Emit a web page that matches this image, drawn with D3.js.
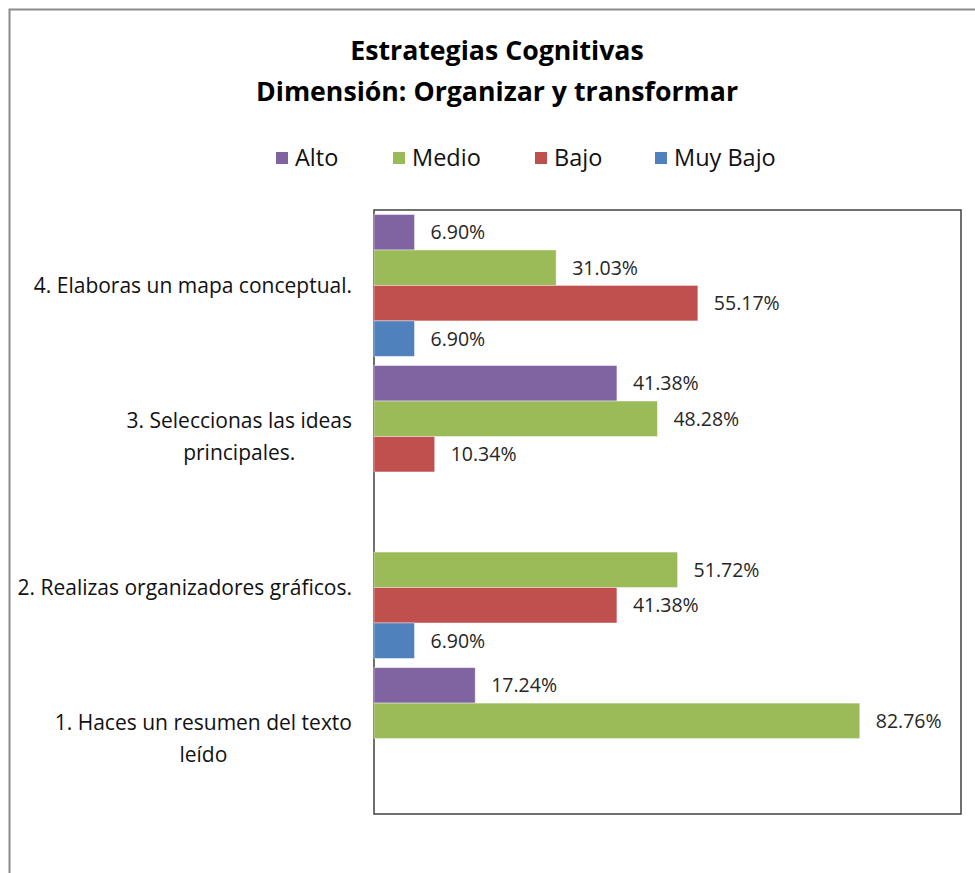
<!DOCTYPE html>
<html>
<head>
	<script src="https://cdn.jsdelivr.net/npm/d3@7/dist/d3.min.js"></script>
	<style>
		html, body {
			padding: 0;
			margin: 0;
			background: #fff;
		}
		text {
			font-family: "Open Sans", Lato, sans-serif;
		}
	</style>
</head>
<body>
	<div id="chart"></div>

	<script>
		// data
		var categories = [
			"4. Elaboras un mapa conceptual.",
			"3. Seleccionas las ideas|principales.",
			"2. Realizas organizadores gráficos.",
			"1. Haces un resumen del texto|leído"
		];
		var seriesNames = ["Alto", "Medio", "Bajo", "Muy Bajo"];
		var seriesColors = ["#8064A2", "#9BBB59", "#C0504D", "#4F81BD"];
		// one array per series, same order as categories (top to bottom)
		var alto    = [6.90, 41.38, 0, 17.24];
		var medio   = [31.03, 48.28, 51.72, 82.76];
		var bajo    = [55.17, 10.34, 41.38, 0];
		var muyBajo = [6.90, 0, 6.90, 0];
		var values = [alto, medio, bajo, muyBajo];

		var width = 975, height = 873;

		var svg = d3.select("#chart").append("svg")
			.attr("width", width)
			.attr("height", height);

		// outer chart frame (only top and left edges are in view)
		svg.append("rect")
			.attr("x", 9.5).attr("y", 9.5)
			.attr("width", 1000).attr("height", 1000)
			.attr("fill", "#fff")
			.attr("stroke", "#8c8c8c")
			.attr("stroke-width", 2);

		// title
		var title = svg.append("text")
			.attr("text-anchor", "middle")
			.attr("font-weight", "bold")
			.attr("font-size", 26.7)
			.attr("fill", "#000");
		title.append("tspan").attr("x", 497).attr("y", 60).text("Estrategias Cognitivas");
		title.append("tspan").attr("x", 497).attr("y", 101).text("Dimensión: Organizar y transformar");

		// legend
		var legendX = [276, 393, 535, 655];
		var legend = svg.append("g").selectAll("g")
			.data(seriesNames)
			.enter().append("g")
			.attr("transform", function(d, i) { return "translate(" + legendX[i] + ",152)"; });
		legend.append("rect")
			.attr("width", 12).attr("height", 12)
			.attr("fill", function(d, i) { return seriesColors[i]; });
		legend.append("text")
			.attr("x", 19).attr("y", 14)
			.attr("font-size", 23.5)
			.attr("fill", "#111")
			.text(function(d) { return d; });

		// plot area
		var plot = {left: 374, top: 210, right: 961, bottom: 814};

		var x = d3.scaleLinear().domain([0, 100]).range([plot.left, plot.right]);
		var y0 = d3.scaleBand().domain(categories)
			.range([plot.top, plot.bottom]).paddingInner(0.061).paddingOuter(0.03);
		var y1 = d3.scaleBand().domain(seriesNames).range([0, y0.bandwidth()]);

		svg.append("rect")
			.attr("x", plot.left).attr("y", plot.top)
			.attr("width", plot.right - plot.left)
			.attr("height", plot.bottom - plot.top)
			.attr("fill", "#fff")
			.attr("stroke", "#404040")
			.attr("stroke-width", 1.5);

		var groups = svg.append("g").selectAll("g")
			.data(categories)
			.enter().append("g")
			.attr("transform", function(d) { return "translate(0," + y0(d) + ")"; });

		groups.each(function(cat, ci) {
			var g = d3.select(this);
			var rows = seriesNames.map(function(s, si) {
				return {series: s, color: seriesColors[si], value: values[si][ci]};
			}).filter(function(r) { return r.value > 0; });

			g.selectAll("rect")
				.data(rows)
				.enter().append("rect")
				.attr("x", x(0))
				.attr("y", function(r) { return y1(r.series); })
				.attr("width", function(r) { return x(r.value) - x(0); })
				.attr("height", y1.bandwidth())
				.attr("fill", function(r) { return r.color; })
				.attr("stroke", "#fff")
				.attr("stroke-opacity", 0.5)
				.attr("stroke-width", 0.8);

			g.selectAll("text")
				.data(rows)
				.enter().append("text")
				.attr("x", function(r) { return x(r.value) + 16; })
				.attr("y", function(r) { return y1(r.series) + y1.bandwidth() / 2; })
				.attr("dy", "0.36em")
				.attr("font-size", 19.5)
				.attr("fill", "#262626")
				.text(function(r) { return r.value.toFixed(2) + "%"; });
		});

		// category labels, wrapped lines centred within the block, block right-aligned
		var labels = svg.append("g").selectAll("text")
			.data(categories)
			.enter().append("text")
			.attr("font-size", 21)
			.attr("fill", "#111")
			.attr("text-anchor", "middle");

		labels.each(function(cat) {
			var t = d3.select(this);
			var lines = cat.split("|");
			var cy = y0(cat) + y0.bandwidth() / 2;
			var spans = lines.map(function(line, i) {
				return t.append("tspan")
					.attr("y", cy + (i - (lines.length - 1) / 2) * 32)
					.attr("dy", "0.35em")
					.text(line);
			});
			var w = d3.max(spans, function(s) { return s.node().getComputedTextLength(); });
			spans.forEach(function(s) { s.attr("x", 352 - w / 2); });
		});
	</script>
</body>
</html>
